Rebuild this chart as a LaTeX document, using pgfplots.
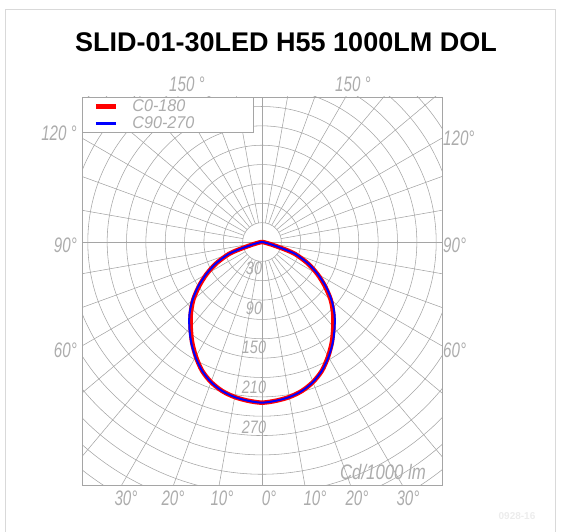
\documentclass[border=0pt]{standalone}
\usepackage{fontspec}
\setmainfont{Liberation Sans}
\usepackage{graphicx}
\usepackage{pgfplots}
\pgfplotsset{compat=1.18}
\usepackage{pgfplotstable}

\definecolor{gridc}{RGB}{165,165,165}
\definecolor{labc}{RGB}{172,172,172}
\newcommand\cad[2][0.72]{\scalebox{#1}[1]{\itshape #2}}

% angle gamma from nadir (negative = left), intensity cd/1000 lm
\pgfplotstableread{
g r
-90 0
-85 1
-80 4
-75 16
-72 38
-70 55
-65 78
-60 99
-55 119
-50 139
-45 156
-40 172
-35 189
-30 205
-25 220
-20 231
-15 239
-10 244
-5 247
0 249
5 247
10 244
15 239
20 231
25 220
30 205
35 189
40 172
45 156
50 139
55 119
60 99
65 78
70 55
72 38
75 16
80 4
85 1
90 0
}\cnull

\pgfplotstableread{
g r
-90 0
-85 1
-80 4
-75 16
-72 38
-70 56
-65 79
-60 100
-55 121
-50 141
-45 159
-40 175
-35 191
-30 206
-25 220
-20 231
-15 239
-10 244
-5 247
0 249
5 247
10 244
15 239
20 231
25 220
30 206
35 191
40 175
45 159
50 141
55 121
60 100
65 79
70 56
72 38
75 16
80 4
85 1
90 0
}\cninety

\begin{document}
\begin{tikzpicture}[x=1pt,y=1pt]
\path[use as bounding box] (0,0) rectangle (567,531);
% outer frame
\draw[gray!30, line width=1pt] (5,-5) -- (5,521) -- (555,521) -- (555,-5);
% title
\node[font=\bfseries\fontsize{27}{27}\selectfont] at (286,489) {SLID-01-30LED H55 1000LM DOL};
% watermark
\node[font=\bfseries\fontsize{10}{10}\selectfont, text=gray!15] at (517,15) {0928-16};

% polar grid
\begin{scope}
\clip (82,46) rectangle (442,434);
\foreach \k in {1,...,18} \draw[gridc, line width=0.55pt] (262,289) circle[radius=19.355*\k];
\foreach \a in {10,20,...,80,100,110,...,170,190,200,...,260,280,290,...,350}
  \draw[gridc, line width=0.55pt, shift={(262,289)}] (\a:19.355) -- (\a:420);
\draw[gridc, line width=0.55pt] (82,289) -- (442,289);
\draw[gridc, line width=0.55pt] (262,46) -- (262,434);
\end{scope}

% ring labels
\begin{scope}[font=\fontsize{18}{18}\selectfont, text=labc]
\node at (254,263) {\cad[0.8]{30}};
\node at (254,223) {\cad[0.8]{90}};
\node at (254,184) {\cad[0.8]{150}};
\node at (254,144) {\cad[0.8]{210}};
\node at (254,104) {\cad[0.8]{270}};
\end{scope}

% angle labels
\begin{scope}[font=\fontsize{21}{21}\selectfont, text=labc, inner sep=1pt]
\node[anchor=west] at (168,447) {\cad{150 °}};
\node[anchor=west] at (334,447) {\cad{150 °}};
\node[anchor=east] at (78,398) {\cad{120 °}};
\node[anchor=east] at (78,286) {\cad{90°}};
\node[anchor=east] at (78,181) {\cad{60°}};
\node[anchor=west] at (442,393) {\cad{120°}};
\node[anchor=west] at (442,286) {\cad{90°}};
\node[anchor=west] at (442,181) {\cad{60°}};
\node at (126,33) {\cad{30°}};
\node at (173,33) {\cad{20°}};
\node at (222,33) {\cad{10°}};
\node at (269,33) {\cad{0°}};
\node at (315,33) {\cad{10°}};
\node at (357,33) {\cad{20°}};
\node at (408,33) {\cad{30°}};
\node at (383,59) {\cad[0.8]{Cd/1000 lm}};
\end{scope}

\begin{axis}[
  at={(82pt,46pt)}, anchor=south west,
  scale only axis, width=360pt, height=388pt,
  xmin=-279, xmax=279, ymin=-376.65, ymax=224.75,
  xtick=\empty, ytick=\empty,
  axis line style={gridc, line width=0.8pt},
  legend cell align=left,
  legend image code/.code={\draw[#1] (0pt,0pt) -- (20pt,0pt);},
  legend style={at={(0,1)}, anchor=north west, draw=gridc, fill=white,
    line width=0.8pt, font=\fontsize{17}{17}\selectfont, text=labc,
    inner xsep=11pt, inner ysep=1pt, row sep=2pt,
    nodes={inner ysep=1pt}},
]
\addlegendimage{draw=red, line width=5pt}
\addlegendentry{\hspace*{12pt}\cad[0.95]{C0-180}}
\addlegendimage{draw=blue, line width=2.2pt}
\addlegendentry{\hspace*{12pt}\cad[0.95]{C90-270}\hspace*{46pt}}
\addplot[red, line width=4.5pt, line join=round, smooth, tension=0.5, data cs=polar, forget plot]
  table[x expr=\thisrow{g}-90, y=r]{\cnull};
\addplot[blue, line width=2pt, line join=round, smooth, tension=0.5, data cs=polar, forget plot]
  table[x expr=\thisrow{g}-90, y=r]{\cninety};
\end{axis}
\end{tikzpicture}
\end{document}
